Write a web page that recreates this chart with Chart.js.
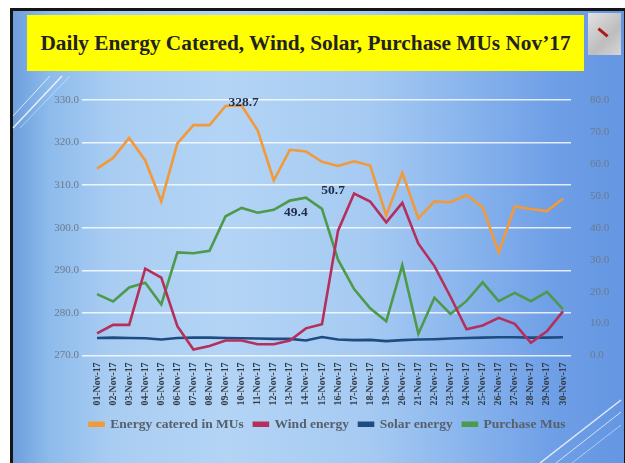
<!DOCTYPE html>
<html>
<head>
<meta charset="utf-8">
<script src="https://cdn.jsdelivr.net/npm/chart.js@4.4.0/dist/chart.umd.min.js"></script>
<style>
  html, body { margin: 0; padding: 0; background: #ffffff; }
  body { width: 625px; height: 463px; position: relative; overflow: hidden; }
  #slide {
    position: absolute; left: 10px; top: 8px; width: 617px; height: 470px;
    box-sizing: border-box; border: 3px solid #151515;
    background: linear-gradient(90deg, #6e9fdd 0%, #8dbbec 6%, #a9cdf2 16%, #b3d4f5 35%, #a6caf2 58%, #8db8ee 72%, #6f9fe6 88%, #6496e2 100%);
  }
  #title {
    position: absolute; left: 27px; top: 15px; width: 557px; height: 56px;
    background: #ffff00; color: #222;
    font: bold 21.3px "Liberation Serif", "Times New Roman", serif;
    display: flex; align-items: center; justify-content: center; white-space: nowrap;
  }
  #logo {
    position: absolute; left: 588px; top: 13px; width: 33px; height: 42px;
    background: linear-gradient(135deg, #e2e2e2, #bdbdbd 60%, #d6d6d6);
  }
  #logo::after {
    content: ""; position: absolute; left: 9px; top: 18px; width: 12px; height: 3px;
    background: #b01818; transform: rotate(40deg);
  }
  #deco { position: absolute; left: 0; top: 0; }
  #c { position: absolute; left: 0; top: 0; }
</style>
</head>
<body>
<div id="slide"></div>
<svg id="deco" width="625" height="463">
  <g stroke="#ffffff" fill="none">
    <line x1="13" y1="128" x2="62" y2="76" stroke-width="1.5" stroke-opacity="0.8"/>
    <line x1="13" y1="116" x2="50" y2="76" stroke-width="1" stroke-opacity="0.7"/>
    <line x1="20" y1="128" x2="70" y2="76" stroke-width="0.8" stroke-opacity="0.5"/>
    <line x1="540" y1="463" x2="621" y2="400" stroke-width="1.5" stroke-opacity="0.8"/>
    <line x1="556" y1="463" x2="621" y2="412" stroke-width="1" stroke-opacity="0.7"/>
    <line x1="572" y1="463" x2="621" y2="425" stroke-width="0.8" stroke-opacity="0.6"/>
  </g>
</svg>
<div id="title">Daily Energy Catered, Wind, Solar, Purchase MUs Nov’17</div>
<div id="logo"></div>
<canvas id="c" width="625" height="463"></canvas>
<script>
const categories = ["01-Nov-17","02-Nov-17","03-Nov-17","04-Nov-17","05-Nov-17","06-Nov-17","07-Nov-17","08-Nov-17","09-Nov-17","10-Nov-17",
  "11-Nov-17","12-Nov-17","13-Nov-17","14-Nov-17","15-Nov-17","16-Nov-17","17-Nov-17","18-Nov-17","19-Nov-17","20-Nov-17",
  "21-Nov-17","22-Nov-17","23-Nov-17","24-Nov-17","25-Nov-17","26-Nov-17","27-Nov-17","28-Nov-17","29-Nov-17","30-Nov-17"];
const energyCatered = [313.9, 316.4, 321.1, 315.8, 306.2, 319.8, 324.1, 324.1, 328.6, 328.7,
  322.9, 311.1, 318.3, 317.9, 315.5, 314.5, 315.6, 314.6, 302.9, 312.9,
  302.2, 306.2, 306.0, 307.7, 304.8, 294.2, 305.0, 304.4, 303.9, 306.8];
const windEnergy = [6.9, 9.6, 9.6, 27.2, 24.4, 9.2, 1.9, 3.0, 4.7, 4.7,
  3.5, 3.5, 4.7, 8.5, 9.8, 39.1, 50.7, 48.2, 41.7, 47.8,
  35.0, 28.0, 18.4, 8.2, 9.4, 11.8, 9.9, 4.0, 7.6, 13.8];
const solarEnergy = [5.5, 5.6, 5.5, 5.4, 5.0, 5.5, 5.6, 5.6, 5.5, 5.4,
  5.3, 5.2, 5.2, 4.7, 5.8, 5.0, 4.8, 4.9, 4.5, 4.8,
  5.0, 5.1, 5.3, 5.5, 5.6, 5.7, 5.7, 5.6, 5.6, 5.7];
const purchaseMus = [19.2, 16.9, 21.3, 22.8, 16.0, 32.3, 32.0, 32.8, 43.6, 46.2,
  44.7, 45.6, 48.5, 49.4, 45.9, 30.0, 20.8, 14.8, 10.7, 28.3,
  6.8, 18.1, 13.0, 17.1, 22.9, 17.0, 19.6, 17.0, 19.9, 14.5];
const leftTicks = [270, 280, 290, 300, 310, 320, 330];
const rightTicks = [0, 10, 20, 30, 40, 50, 60, 70, 80];
const seriesNames = ["Energy catered in MUs", "Wind energy", "Solar energy", "Purchase Mus"];
// labelled points: [datasetIndex, pointIndex]
const labelledPoints = [[0, 9], [1, 16], [3, 13]];

const colors = ["#f2993a", "#b62f5c", "#1e4c82", "#4d9a4b"];
const serif = '"Liberation Serif", "Times New Roman", serif';

const labelOffsets = { "0-9": [2, 0], "1-16": [-21, 0], "3-13": [-10, 18] };

const dataLabelPlugin = {
  id: 'dataLabels',
  afterDatasetsDraw(chart) {
    const ctx = chart.ctx;
    ctx.save();
    ctx.font = 'bold 13.5px ' + serif;
    ctx.fillStyle = '#1f2c4a';
    ctx.textAlign = 'center';
    ctx.textBaseline = 'alphabetic';
    labelledPoints.forEach(([d, i]) => {
      const pt = chart.getDatasetMeta(d).data[i];
      const val = chart.data.datasets[d].data[i];
      const off = labelOffsets[d + '-' + i] || [0, -6];
      ctx.fillText(val.toFixed(1), pt.x + off[0], pt.y + off[1]);
    });
    ctx.restore();
  }
};

function ds(name, data, color, axis) {
  return { label: name, data: data, borderColor: color, backgroundColor: color,
    yAxisID: axis, borderWidth: 2.6, pointRadius: 0, tension: 0, fill: false };
}

new Chart(document.getElementById('c'), {
  type: 'line',
  data: {
    labels: categories,
    datasets: [
      ds(seriesNames[0], energyCatered, colors[0], 'y'),
      ds(seriesNames[1], windEnergy, colors[1], 'y1'),
      ds(seriesNames[2], solarEnergy, colors[2], 'y1'),
      ds(seriesNames[3], purchaseMus, colors[3], 'y1')
    ]
  },
  options: {
    responsive: false,
    devicePixelRatio: 1,
    animation: false,
    layout: { padding: { top: 100, left: 30, right: 0, bottom: 22 } },
    plugins: {
      legend: {
        position: 'bottom',
        labels: {
          font: { family: serif, size: 13.5, weight: 'bold' },
          color: '#56606c', boxWidth: 14, boxHeight: 3, padding: 10
        }
      },
      tooltip: { enabled: false }
    },
    scales: {
      x: {
        offset: true,
        grid: { display: false, drawTicks: false },
        border: { display: false },
        ticks: { autoSkip: false, minRotation: 90, maxRotation: 90, padding: 7,
          font: { family: serif, size: 9.8, weight: 'bold' }, color: '#333a44' },
        afterFit(s) { s.height = 52; }
      },
      y: {
        position: 'left', min: 270, max: 330,
        afterBuildTicks(s) { s.ticks = leftTicks.map(v => ({ value: v })); },
        grid: { color: 'rgba(255,255,255,0.8)', lineWidth: 1.6, drawTicks: true, tickLength: 7 },
        border: { display: false },
        ticks: { padding: 3, font: { family: serif, size: 11 }, color: '#6d7a8c',
          callback: v => Number(v).toFixed(1) },
        afterFit(s) { s.width = 59; }
      },
      y1: {
        position: 'right', min: 0, max: 80,
        afterBuildTicks(s) { s.ticks = rightTicks.map(v => ({ value: v })); },
        grid: { display: false },
        border: { display: false },
        ticks: { padding: 11, font: { family: serif, size: 11 }, color: '#6d7a8c',
          callback: v => Number(v).toFixed(1) },
        afterFit(s) { s.width = 54; }
      }
    }
  },
  plugins: [dataLabelPlugin]
});
</script>
</body>
</html>
